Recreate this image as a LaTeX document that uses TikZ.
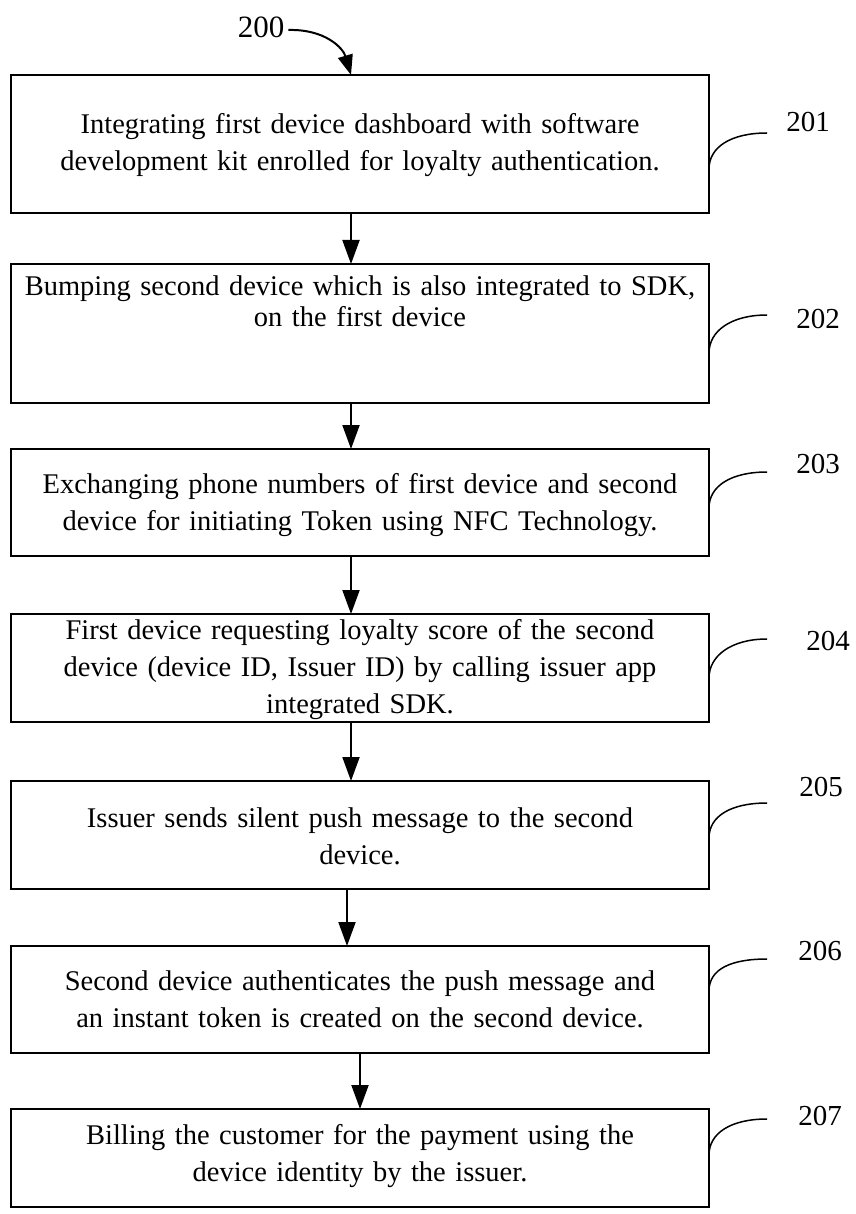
\documentclass[tikz,border=0pt]{standalone}
\usepackage{fontspec}
\setmainfont{Liberation Serif}
\usetikzlibrary{arrows.meta}
\begin{document}
\begin{tikzpicture}[x=1pt,y=-1pt,
  box/.style={draw, line width=1.5pt, minimum width=698pt, inner sep=0pt, outer sep=0pt, anchor=north west},
  txt/.style={text width=720pt, align=center, inner sep=0pt, anchor=base, font=\fontsize{28.5}{37}\selectfont},
  arr/.style={line width=2pt, -{Triangle[length=24pt,width=17pt]}},
  lead/.style={line width=1.5pt},
  num/.style={font=\fontsize{29}{29}\selectfont, inner sep=0pt}]
\useasboundingbox (0,0) rectangle (855,1214);

% boxes
\node[box, minimum height=138pt] (b1) at (11,75) {};
\node[box, minimum height=139pt] (b2) at (11,264) {};
\node[box, minimum height=107pt] (b3) at (11,449) {};
\node[box, minimum height=108pt] (b4) at (11,614) {};
\node[box, minimum height=108pt] (b5) at (11,781) {};
\node[box, minimum height=107pt] (b6) at (11,946) {};
\node[box, minimum height=98pt] (b7) at (11,1109) {};

% texts
\node[txt] (t1) at (360,134) {Integrating first device dashboard with software\\ development kit enrolled for loyalty authentication.};
\node[txt, font=\fontsize{28.5}{31}\selectfont] (t2) at (360,296) {Bumping second device which is also integrated to SDK,\\ on the first device};
\node[txt] (t3) at (360,493) {Exchanging phone numbers of first device and second\\ device for initiating Token using NFC Technology.};
\node[txt] (t4) at (360,639) {First device requesting loyalty score of the second\\ device (device ID, Issuer ID) by calling issuer app\\ integrated SDK.};
\node[txt] (t5) at (360,827) {Issuer sends silent push message to the second\\ device.};
\node[txt] (t6) at (360,990) {Second device authenticates the push message and\\ an instant token is created on the second device.};
\node[txt] (t7) at (360,1144) {Billing the customer for the payment using the\\ device identity by the issuer.};

% flow arrows
\draw[arr] ([xshift=-9pt]b1.south) -- ([xshift=-9pt]b2.north);
\draw[arr] ([xshift=-9pt]b2.south) -- ([xshift=-9pt]b3.north);
\draw[arr] ([xshift=-9pt]b3.south) -- ([xshift=-9pt]b4.north);
\draw[arr] ([xshift=-9pt]b4.south) -- ([xshift=-9pt]b5.north);
\draw[arr] ([xshift=-13pt]b5.south) -- ([xshift=-13pt]b6.north);
\draw[arr] (b6.south) -- (b7.north);

% top label
\node[num, font=\fontsize{31}{31}\selectfont] (n200) at (261,27) {200};
\draw[line width=2pt, -{Triangle[length=20pt,width=15pt]}] ([xshift=4pt,yshift=-3pt]n200.east) .. controls (325,29) and (343,48) .. ([xshift=-9pt]b1.north);

% reference numerals
\node[num] (n201) at (808,122) {201};
\node[num] (n202) at (818,319) {202};
\node[num] (n203) at (818,464) {203};
\node[num] (n204) at (828,641) {204};
\node[num] (n205) at (821,787) {205};
\node[num] (n206) at (820,951) {206};
\node[num] (n207) at (820,1116) {207};

\coordinate (e1) at (767,133);
\coordinate (e2) at (767,315);
\coordinate (e3) at (767,472);
\coordinate (e4) at (767,639);
\coordinate (e5) at (767,803);
\coordinate (e6) at (767,959);
\coordinate (e7) at (767,1119);

\draw[lead] ([yshift=-25pt]b1.east) .. controls +(0,-22) and +(-36,0) .. (e1);
\draw[lead] ([yshift=-19.5pt]b2.east) .. controls +(0,-22) and +(-36,0) .. (e2);
\draw[lead] ([yshift=-5.5pt]b3.east) .. controls +(0,-22) and +(-36,0) .. (e3);
\draw[lead] ([yshift=-10pt]b4.east) .. controls +(0,-22) and +(-36,0) .. (e4);
\draw[lead] ([yshift=-3pt]b5.east) .. controls +(0,-22) and +(-36,0) .. (e5);
\draw[lead] ([yshift=8.5pt]b6.east) .. controls +(0,-22) and +(-36,0) .. (e6);
\draw[lead] ([yshift=3pt]b7.east) .. controls +(0,-22) and +(-36,0) .. (e7);
\end{tikzpicture}
\end{document}
